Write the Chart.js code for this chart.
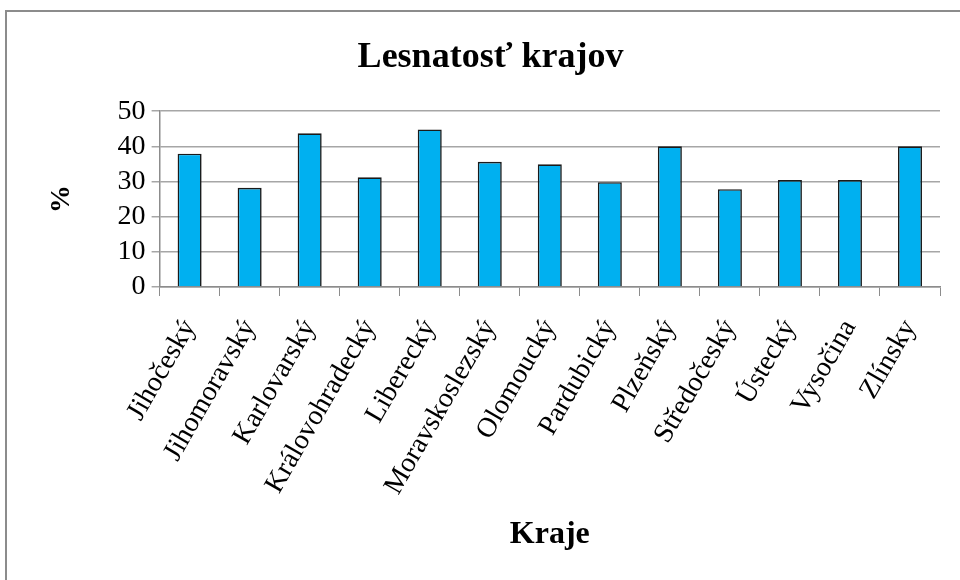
<!DOCTYPE html>
<html>
<head>
<meta charset="utf-8">
<script src="https://cdn.jsdelivr.net/npm/chart.js@4"></script>
<style>
  html, body { margin: 0; padding: 0; background: #fff; overflow: hidden; }
  #wrap { position: relative; width: 960px; height: 580px; }
  #frame { position: absolute; left: 5px; top: 10px; width: 1000px; height: 620px; border: 2px solid #8c8c8c; box-sizing: border-box; }
  canvas { position: absolute; left: 0; top: 0; }
</style>
</head>
<body>
<div id="wrap">
  <div id="frame"></div>
  <canvas id="chart" width="960" height="580"></canvas>
</div>
<script>
const regions = ["Jihočeský", "Jihomoravský", "Karlovarský", "Královohradecký", "Liberecký",
  "Moravskoslezský", "Olomoucký", "Pardubický", "Plzeňský", "Středočeský", "Ústecký", "Vysočina", "Zlínsky"];
const forestShare = [37.9, 28.2, 43.7, 31.2, 44.8, 35.6, 34.9, 29.8, 40.0, 27.8, 30.4, 30.4, 40.0];
const yTicks = [0, 10, 20, 30, 40, 50];

const serif = "'Liberation Serif', 'Times New Roman', serif";

const ctx = document.getElementById("chart").getContext("2d");
new Chart(ctx, {
  type: "bar",
  data: {
    labels: regions,
    datasets: [{
      label: "%",
      data: forestShare,
      backgroundColor: "#00b0f0",
      borderColor: "#1a1a1a",
      borderWidth: 1.6,
      categoryPercentage: 1,
      barPercentage: 0.4
    }]
  },
  options: {
    responsive: false,
    animation: false,
    layout: { padding: { left: 41, right: 20, top: 20, bottom: 26 } },
    plugins: {
      legend: { display: false },
      tooltip: { enabled: false },
      title: {
        display: true,
        text: "Lesnatosť krajov",
        color: "#000",
        font: { family: serif, size: 36, weight: "bold" },
        padding: { top: 16, bottom: 32 }
      }
    },
    scales: {
      x: {
        grid: { drawOnChartArea: false, drawTicks: true, tickLength: 9, color: "#8c8c8c", offset: true },
        border: { color: "#8c8c8c", width: 1.5 },
        ticks: {
          color: "#000",
          font: { family: serif, size: 28 },
          minRotation: 60,
          maxRotation: 60,
          autoSkip: false,
          padding: 18
        },
        title: {
          display: true,
          text: "Kraje",
          color: "#000",
          font: { family: serif, size: 32, weight: "bold" },
          padding: { top: 12, bottom: 0 }
        }
      },
      y: {
        min: 0,
        max: 50,
        afterBuildTicks: axis => { axis.ticks = yTicks.map(v => ({ value: v })); },
        grid: { color: "#a6a6a6", lineWidth: 1.5, tickLength: 8 },
        border: { color: "#8c8c8c", width: 1.5 },
        ticks: {
          color: "#000",
          font: { family: serif, size: 28 },
          padding: 6,
          autoSkip: false
        },
        title: {
          display: true,
          text: "%",
          color: "#000",
          font: { family: serif, size: 28, weight: "bold" },
          padding: { bottom: 33 }
        }
      }
    }
  }
});
</script>
</body>
</html>
